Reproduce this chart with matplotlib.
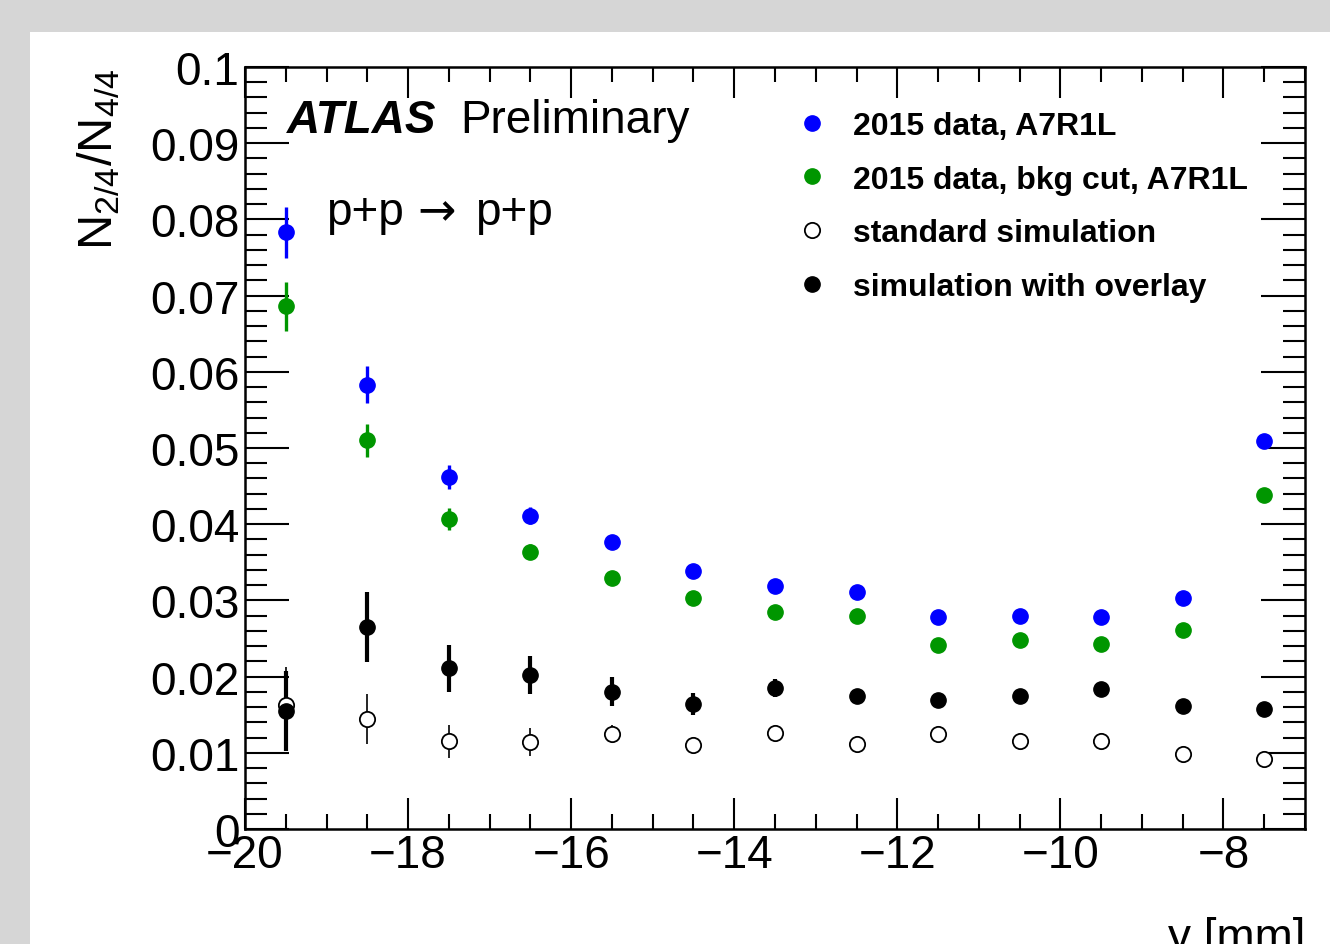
import matplotlib
matplotlib.use("Agg")
import matplotlib.pyplot as plt
from matplotlib.patches import Rectangle
from matplotlib.ticker import MultipleLocator

plt.rcParams['font.family'] = ['Liberation Sans', 'DejaVu Sans']
plt.rcParams['mathtext.default'] = 'regular'

# bin centres (y position in mm)
y_pos = [-19.5, -18.5, -17.5, -16.5, -15.5, -14.5, -13.5, -12.5, -11.5, -10.5, -9.5, -8.5, -7.5]

# 2015 data, A7R1L
data = [0.0783, 0.0583, 0.0462, 0.0411, 0.0377, 0.0339, 0.0319, 0.0311, 0.0278, 0.0280, 0.0278, 0.0303, 0.0509]
data_err = [0.0033, 0.0024, 0.0016, 0.0011, 0.0006, 0.0005, 0.0005, 0.0004, 0.0004, 0.0004, 0.0004, 0.0004, 0.0004]

# 2015 data, bkg cut, A7R1L
data_cut = [0.0686, 0.0510, 0.0407, 0.0364, 0.0329, 0.0303, 0.0285, 0.0280, 0.0241, 0.0248, 0.0243, 0.0261, 0.0438]
data_cut_err = [0.0032, 0.0022, 0.0014, 0.0010, 0.0006, 0.0005, 0.0005, 0.0004, 0.0004, 0.0004, 0.0004, 0.0004, 0.0004]

# standard simulation
sim = [0.0163, 0.0144, 0.0115, 0.0114, 0.0125, 0.0110, 0.0126, 0.0112, 0.0125, 0.0115, 0.0115, 0.0098, 0.0092]
sim_err = [0.0050, 0.0033, 0.0022, 0.0018, 0.0012, 0.0008, 0.0006, 0.0005, 0.0005, 0.0005, 0.0005, 0.0004, 0.0004]

# simulation with overlay
sim_ovl = [0.0155, 0.0265, 0.0211, 0.0202, 0.0180, 0.0164, 0.0185, 0.0175, 0.0169, 0.0175, 0.0184, 0.0161, 0.0157]
sim_ovl_err = [0.0052, 0.0046, 0.0031, 0.0025, 0.0019, 0.0015, 0.0012, 0.0008, 0.0007, 0.0007, 0.0007, 0.0006, 0.0006]

fig = plt.figure(figsize=(13.3, 9.45), dpi=100)
fig.patch.set_facecolor('#d6d6d6')
fig.patches.append(Rectangle((30/1330, 0), 1, 1 - 33/945, transform=fig.transFigure,
                             facecolor='white', edgecolor='none', zorder=-10))

ax = fig.add_axes([245/1330, 1 - 830/945, 1060/1330, 762/945])
ax.patch.set_alpha(0)

blue = '#0000ff'
green = '#009600'
ms = 11

# error bars
ax.errorbar(y_pos, data, yerr=data_err, fmt='none', ecolor=blue, elinewidth=2.4, capsize=0)
ax.errorbar(y_pos, data_cut, yerr=data_cut_err, fmt='none', ecolor=green, elinewidth=2.4, capsize=0)
ax.errorbar(y_pos, sim, yerr=sim_err, fmt='none', ecolor='black', elinewidth=1.2, capsize=0)
ax.errorbar(y_pos, sim_ovl, yerr=sim_ovl_err, fmt='none', ecolor='black', elinewidth=3.0, capsize=0)

# markers
ax.plot(y_pos, data, 'o', color=blue, ms=ms, mec=blue, label='2015 data, A7R1L')
ax.plot(y_pos, data_cut, 'o', color=green, ms=ms, mec=green, label='2015 data, bkg cut, A7R1L')
ax.plot(y_pos, sim, 'o', mfc='white', mec='black', mew=1.3, ms=ms, label='standard simulation', zorder=3)
ax.plot(y_pos, sim_ovl, 'o', color='black', ms=ms, label='simulation with overlay', zorder=4)

ax.set_xlim(-20, -7)
ax.set_ylim(0, 0.1)
ax.xaxis.set_major_locator(MultipleLocator(2))
ax.xaxis.set_minor_locator(MultipleLocator(0.5))
ax.yaxis.set_minor_locator(MultipleLocator(0.002))
ax.set_yticks([0, 0.01, 0.02, 0.03, 0.04, 0.05, 0.06, 0.07, 0.08, 0.09, 0.1])
ax.set_yticklabels(['0', '0.01', '0.02', '0.03', '0.04', '0.05', '0.06', '0.07', '0.08', '0.09', '0.1'])

ax.tick_params(which='both', direction='in', top=True, right=True, width=1.5, labelsize=33)
ax.tick_params(which='major', axis='x', length=22, pad=3)
ax.tick_params(which='minor', axis='x', length=11)
ax.tick_params(which='major', axis='y', length=32, pad=4)
ax.tick_params(which='minor', axis='y', length=16)
for s in ax.spines.values():
    s.set_linewidth(1.8)

ax.set_ylabel(r'N$_{2/4}$/N$_{4/4}$', fontsize=35, loc='top', labelpad=20)
ax.set_xlabel('y [mm]', fontsize=33, loc='right', labelpad=28)

ax.text(0.04, 0.93, 'ATLAS', transform=ax.transAxes, fontsize=33, fontweight='bold',
        fontstyle='italic', va='center')
ax.text(0.203, 0.93, 'Preliminary', transform=ax.transAxes, fontsize=33, va='center')
# p+p -> p+p
ax.text(0.076, 0.81, 'p+p', transform=ax.transAxes, fontsize=33, va='center')
ax.text(0.163, 0.81, '\u2192', transform=ax.transAxes, fontsize=33, va='center',
        family='DejaVu Sans')
ax.text(0.217, 0.81, 'p+p', transform=ax.transAxes, fontsize=33, va='center')

ax.legend(loc='upper left', bbox_to_anchor=(0.4925, 0.98), frameon=False,
          prop={'size': 23, 'weight': 'bold'}, handletextpad=0.78, labelspacing=0.74,
          handlelength=1.0, markerscale=1.0)

fig.savefig('out.png', dpi=100, facecolor=fig.get_facecolor())
